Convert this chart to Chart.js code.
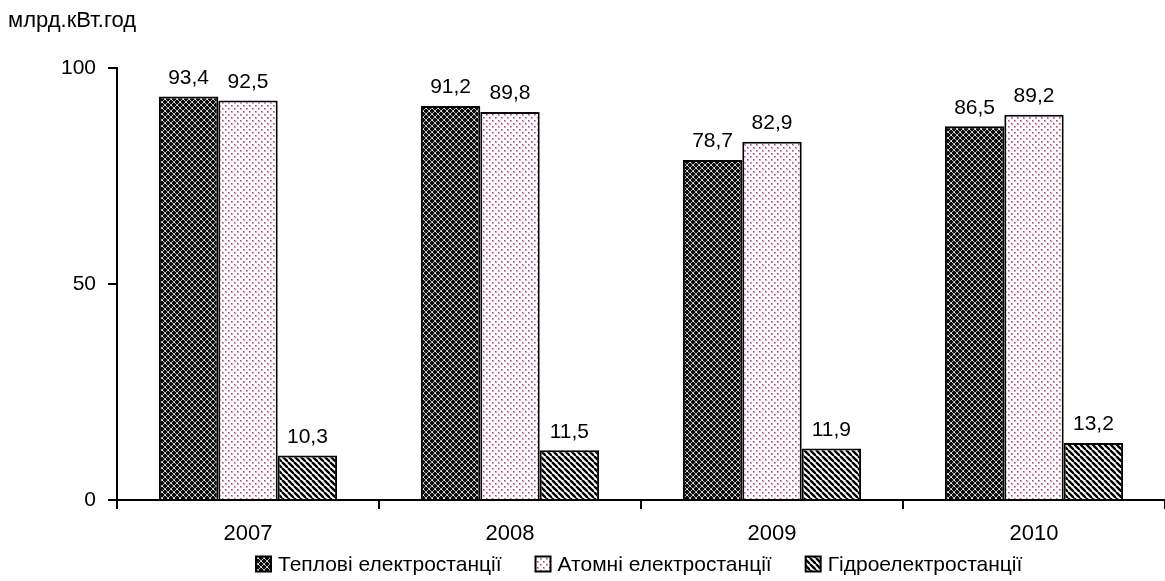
<!DOCTYPE html>
<html>
<head>
<meta charset="utf-8">
<script src="https://cdn.jsdelivr.net/npm/chart.js@4"></script>
<style>
  html, body { margin: 0; padding: 0; background: #fff; }
  #wrap { width: 1165px; height: 581px; }
</style>
</head>
<body>
<div id="wrap"><canvas id="energyChart" width="1165" height="581"></canvas></div>
<script>
const years = ['2007', '2008', '2009', '2010'];
const thermal = [93.4, 91.2, 78.7, 86.5];
const nuclear = [92.5, 89.8, 82.9, 89.2];
const hydro = [10.3, 11.5, 11.9, 13.2];
const seriesNames = ['Теплові електростанції', 'Атомні електростанції', 'Гідроелектростанції'];
const unitLabel = 'млрд.кВт.год';

const fontFamily = '"Liberation Sans", Arial, sans-serif';

// small canvas tiles for the hatch fills
function makePattern(size, draw) {
    const c = document.createElement('canvas');
    c.width = size;
    c.height = size;
    const g = c.getContext('2d');
    draw(g);
    return g.createPattern(c, 'repeat');
}

const ctx = document.getElementById('energyChart').getContext('2d');

const darkMesh = makePattern(6, g => {
    g.fillStyle = '#0d0d0d';
    g.fillRect(0, 0, 6, 6);
    g.strokeStyle = '#b4b4b4';
    g.lineWidth = 1;
    g.beginPath();
    g.moveTo(0, 0); g.lineTo(6, 6);
    g.moveTo(6, 0); g.lineTo(0, 6);
    g.stroke();
    g.fillStyle = '#ffffff';
    g.fillRect(0, 0, 1, 1);
    g.fillRect(3, 3, 1, 1);
});

const pinkDots = makePattern(6, g => {
    g.fillStyle = '#ffffff';
    g.fillRect(0, 0, 6, 6);
    g.fillStyle = '#dc9cc0';
    g.fillRect(0, 0, 2, 2);
    g.fillRect(3, 3, 2, 2);
    g.fillStyle = '#b0407a';
    g.fillRect(0, 0, 1, 1);
    g.fillRect(3, 3, 1, 1);
});

const stripes = makePattern(6, g => {
    g.fillStyle = '#ffffff';
    g.fillRect(0, 0, 6, 6);
    g.strokeStyle = '#000000';
    g.lineWidth = 2.4;
    for (let k = -6; k <= 12; k += 6) {
        g.beginPath();
        g.moveTo(k, 0);
        g.lineTo(k + 6, 6);
        g.stroke();
    }
});

const fills = [darkMesh, pinkDots, stripes];

// value labels above each bar, with a decimal comma
const valueLabels = {
    id: 'valueLabels',
    afterDatasetsDraw(chart) {
        const c = chart.ctx;
        c.save();
        c.font = '21px ' + fontFamily;
        c.fillStyle = '#000';
        c.textAlign = 'center';
        c.textBaseline = 'bottom';
        chart.data.datasets.forEach((ds, i) => {
            chart.getDatasetMeta(i).data.forEach((bar, j) => {
                const txt = ds.data[j].toFixed(1).replace('.', ',');
                c.fillText(txt, bar.x, bar.y - 8);
            });
        });
        c.restore();
    }
};

// unit caption top-left and the legend row under the axis
const captions = {
    id: 'captions',
    afterDraw(chart) {
        const c = chart.ctx;
        c.save();
        c.fillStyle = '#000';
        c.textBaseline = 'middle';
        c.font = '22px ' + fontFamily;
        c.textAlign = 'left';
        c.fillText(unitLabel, 8, 21);

        c.font = '21px ' + fontFamily;
        const box = 15, gap = 7, spacing = 34;
        const widths = seriesNames.map(n => box + gap + c.measureText(n).width);
        let x = 256;
        const y = 564;
        seriesNames.forEach((name, i) => {
            c.fillStyle = fills[i];
            c.fillRect(x, y - box / 2, box, box);
            c.lineWidth = 2;
            c.strokeStyle = '#000';
            c.strokeRect(x, y - box / 2, box, box);
            c.fillStyle = '#000';
            c.fillText(name, x + box + gap, y + 1);
            x += widths[i] + spacing;
        });
        c.restore();
    }
};

new Chart(ctx, {
    type: 'bar',
    data: {
        labels: years,
        datasets: [
            { label: seriesNames[0], data: thermal, backgroundColor: darkMesh },
            { label: seriesNames[1], data: nuclear, backgroundColor: pinkDots },
            { label: seriesNames[2], data: hydro, backgroundColor: stripes }
        ]
    },
    options: {
        responsive: false,
        animation: false,
        devicePixelRatio: 1,
        layout: { padding: { left: 0, right: 0, top: 68, bottom: 0 } },
        datasets: {
            bar: {
                borderColor: '#000',
                borderWidth: 2,
                borderSkipped: 'bottom',
                categoryPercentage: 0.68,
                barPercentage: 1.0
            }
        },
        plugins: {
            title: { display: false },
            legend: { display: false },
            tooltip: { enabled: false }
        },
        scales: {
            x: {
                afterFit(scale) { scale.height = 81; },
                grid: {
                    drawOnChartArea: false,
                    color: '#000',
                    lineWidth: 2,
                    tickLength: 9
                },
                border: { color: '#000', width: 2 },
                ticks: {
                    color: '#000',
                    font: { family: fontFamily, size: 22 },
                    padding: 12
                }
            },
            y: {
                min: 0,
                max: 100,
                afterFit(scale) { scale.width = 117; },
                grid: {
                    drawOnChartArea: false,
                    color: '#000',
                    lineWidth: 2,
                    tickLength: 9
                },
                border: { color: '#000', width: 2 },
                ticks: {
                    stepSize: 50,
                    color: '#000',
                    font: { family: fontFamily, size: 21 },
                    padding: 12
                }
            }
        }
    },
    plugins: [valueLabels, captions]
});
</script>
</body>
</html>
